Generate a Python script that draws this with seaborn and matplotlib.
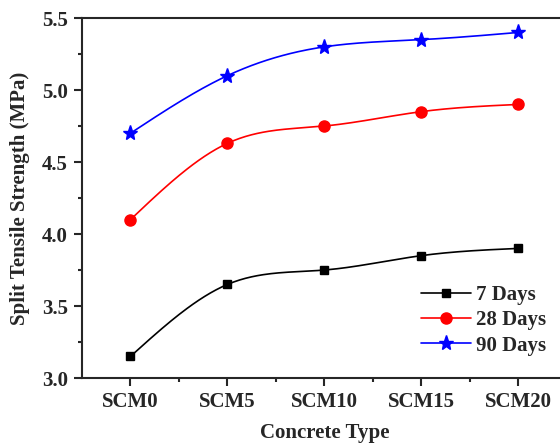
import numpy as np
import pandas as pd
import matplotlib
matplotlib.use('Agg')
import matplotlib.pyplot as plt
from matplotlib.lines import Line2D
from matplotlib.ticker import MultipleLocator, FixedLocator
import seaborn as sns

# Data
concrete_types = ['SCM0', 'SCM5', 'SCM10', 'SCM15', 'SCM20']
days_7 = [3.15, 3.65, 3.75, 3.85, 3.90]
days_28 = [4.10, 4.63, 4.75, 4.85, 4.90]
days_90 = [4.70, 5.10, 5.30, 5.35, 5.40]
series_names = ['7 Days', '28 Days', '90 Days']


def natural_spline(x, y, n=200):
    # natural cubic spline through the points (only used to draw the smooth curve)
    x = np.asarray(x, float)
    y = np.asarray(y, float)
    k = len(x)
    h = np.diff(x)
    A = np.zeros((k, k))
    r = np.zeros(k)
    A[0, 0] = A[-1, -1] = 1
    for i in range(1, k - 1):
        A[i, i - 1] = h[i - 1]
        A[i, i] = 2 * (h[i - 1] + h[i])
        A[i, i + 1] = h[i]
        r[i] = 3 * ((y[i + 1] - y[i]) / h[i] - (y[i] - y[i - 1]) / h[i - 1])
    c = np.linalg.solve(A, r)
    xs = np.linspace(x[0], x[-1], n)
    ys = np.empty_like(xs)
    for j, xv in enumerate(xs):
        i = min(np.searchsorted(x, xv, side='right') - 1, k - 2)
        b = (y[i + 1] - y[i]) / h[i] - h[i] * (2 * c[i] + c[i + 1]) / 3
        d = (c[i + 1] - c[i]) / (3 * h[i])
        t = xv - x[i]
        ys[j] = y[i] + b * t + c[i] * t ** 2 + d * t ** 3
    return xs, ys


sns.set_style('ticks')
plt.rcParams['font.family'] = ['Liberation Serif', 'DejaVu Serif']
plt.rcParams['font.weight'] = 'bold'
plt.rcParams['axes.labelweight'] = 'bold'

fig = plt.figure(figsize=(5.6, 4.43), dpi=100)
ax = fig.add_axes([0.1464, 0.1467, 0.866, 0.8126])

colors = ['black', 'red', 'blue']
markers = ['s', 'o', '*']
msizes = [6, 8, 11]
xpos = np.arange(len(concrete_types))

handles = []
for name, vals, col, mk, ms in zip(series_names, [days_7, days_28, days_90], colors, markers, msizes):
    xs, ys = natural_spline(xpos, vals)
    curve = pd.DataFrame({'x': xs, 'y': ys})
    sns.lineplot(data=curve, x='x', y='y', color=col, linewidth=1.2, ax=ax, sort=False)
    ax.plot(xpos, vals, linestyle='none', marker=mk, markersize=ms, color=col,
            markeredgecolor=col, zorder=3)
    handles.append(Line2D([0], [0], color=col, linewidth=1.2, marker=mk,
                          markersize=ms, markeredgecolor=col, label=name))

ax.set_xlim(-0.5, 4.5)
ax.set_ylim(3.0, 5.5)
ax.set_xticks(xpos)
ax.set_xticklabels(concrete_types)
ax.xaxis.set_minor_locator(FixedLocator(xpos[:-1] + 0.5))
ax.yaxis.set_major_locator(MultipleLocator(0.5))
ax.yaxis.set_minor_locator(MultipleLocator(0.25))
ax.yaxis.set_major_formatter(plt.FuncFormatter(lambda v, p: f'{v:.1f}'))

ax.tick_params(axis='both', which='major', direction='out', length=6, width=1.5,
               labelsize=15, pad=4)
ax.tick_params(axis='both', which='minor', direction='out', length=3, width=1.5)
for lab in ax.get_xticklabels() + ax.get_yticklabels():
    lab.set_fontweight('bold')
for s in ax.spines.values():
    s.set_linewidth(1.5)
    s.set_visible(True)

ax.set_xlabel('Concrete Type', fontsize=15, fontweight='bold', labelpad=8)
ax.set_ylabel('Split Tensile Strength (MPa)', fontsize=15, fontweight='bold', labelpad=9)

ax.legend(handles=handles, loc='lower right', bbox_to_anchor=(0.995, 0.01), frameon=False,
          prop={'size': 15, 'weight': 'bold'}, handlelength=2.4, handletextpad=0.2,
          labelspacing=0.25)

fig.savefig('out.png', dpi=100)
